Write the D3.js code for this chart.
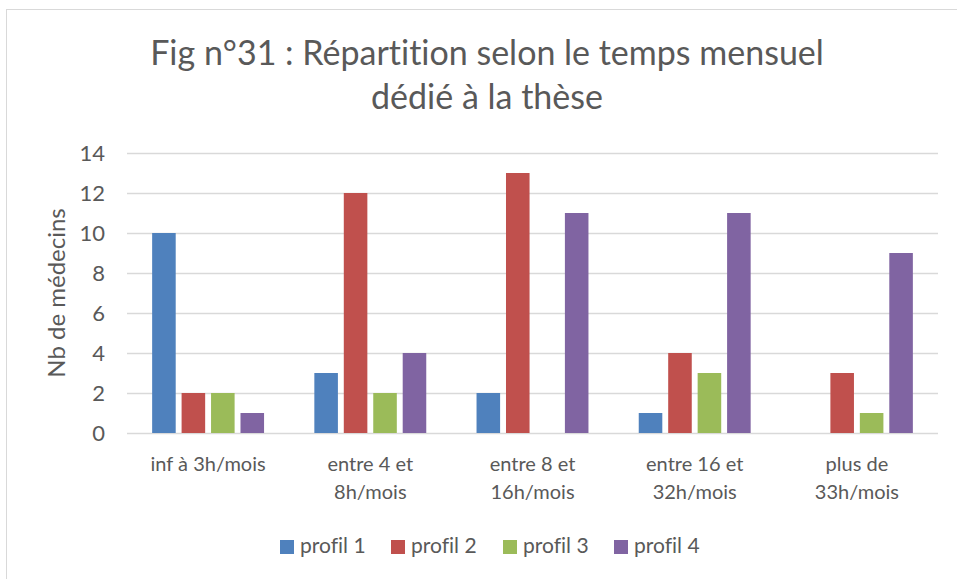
<!DOCTYPE html>
<html>
<head>
<meta charset="utf-8">
<script src="https://cdn.jsdelivr.net/npm/d3@7"></script>
<style>
  body { margin: 0; background: #fff; }
  text { font-family: Lato, "Open Sans", sans-serif; fill: #595959; font-variant-ligatures: none; }
</style>
</head>
<body>
<script>
// data
const categories = [
    ["inf à 3h/mois"],
    ["entre 4 et", "8h/mois"],
    ["entre 8 et", "16h/mois"],
    ["entre 16 et", "32h/mois"],
    ["plus de", "33h/mois"]
]
const seriesNames = ["profil 1", "profil 2", "profil 3", "profil 4"]
const profil1 = [10, 3, 2, 1, 0]
const profil2 = [2, 12, 13, 4, 3]
const profil3 = [2, 2, 0, 3, 1]
const profil4 = [1, 4, 11, 11, 9]
const yTicks = [0, 2, 4, 6, 8, 10, 12, 14]
const colors = ["#4F81BD", "#C0504D", "#9BBB59", "#8064A2"]

const W = 957, H = 579
const plot = { left: 127, right: 938, top: 153, bottom: 433 }

const svg = d3.select("body").append("svg")
    .attr("width", W)
    .attr("height", H)

// chart border
svg.append("rect")
    .attr("x", 6.5).attr("y", 9.5)
    .attr("width", W + 10).attr("height", H + 10)
    .attr("fill", "none")
    .attr("stroke", "#D9D9D9")
    .attr("stroke-width", 1)

//******** TITLE */
const title = svg.append("text")
    .attr("text-anchor", "middle")
    .style("font-size", "34px")
title.append("tspan").attr("x", 487).attr("y", 65).text("Fig n°31 : Répartition selon le temps mensuel")
title.append("tspan").attr("x", 487).attr("y", 109).text("dédié à la thèse")

//******** SCALES */
const y = d3.scaleLinear().domain([0, 14]).range([plot.bottom, plot.top])

const x0 = d3.scaleBand()
    .domain(d3.range(categories.length))
    .range([plot.left, plot.right])
    .paddingInner(0.31)
    .paddingOuter(0.155)

const x1 = d3.scaleBand()
    .domain(d3.range(seriesNames.length))
    .range([0, x0.bandwidth()])
    .paddingInner(0.2)

//******* GRID */
const grid_g = svg.append("g").attr("class", "grid")
grid_g.selectAll("line")
    .data(yTicks)
    .enter().append("line")
    .attr("x1", plot.left).attr("x2", plot.right)
    .attr("y1", d => Math.round(y(d)) + 0.5)
    .attr("y2", d => Math.round(y(d)) + 0.5)
    .attr("stroke", "#D9D9D9")
    .attr("stroke-width", 1.5)

//******** Y AXIS */
const yAxis_g = svg.append("g")
    .attr("transform", "translate(" + (plot.left - 22) + ",0)")
    .call(d3.axisLeft(y).tickValues(yTicks).tickSize(0).tickPadding(0))
yAxis_g.select(".domain").remove()
yAxis_g.selectAll("text")
    .style("font-size", "22px")
    .style("font-family", "Lato, sans-serif")
    .attr("fill", "#595959")
    .attr("dy", "0.35em")

svg.append("text")
    .attr("transform", "translate(65," + ((plot.top + plot.bottom) / 2) + ") rotate(-90)")
    .attr("text-anchor", "middle")
    .style("font-size", "24px")
    .text("Nb de médecins")

//******** BARS */
const allSeries = [profil1, profil2, profil3, profil4]
const bars_g = svg.append("g").attr("class", "bars_g")
allSeries.forEach((vals, si) => {
    bars_g.append("g")
        .attr("fill", colors[si])
        .selectAll("rect")
        .data(vals)
        .enter().append("rect")
        .attr("x", (d, i) => x0(i) + x1(si))
        .attr("width", x1.bandwidth())
        .attr("y", d => y(d))
        .attr("height", d => y(0) - y(d))
})

//******** X LABELS */
const xlab_g = svg.append("g").attr("class", "xlabels")
categories.forEach((lines, i) => {
    const t = xlab_g.append("text")
        .attr("text-anchor", "middle")
        .style("font-size", "20px")
    lines.forEach((l, j) => {
        t.append("tspan")
            .attr("x", x0(i) + x0.bandwidth() / 2)
            .attr("y", 471 + j * 28)
            .text(l)
    })
})

//******** LEGEND */
const legendX = [280, 391, 503, 614]
const legend_g = svg.append("g").attr("class", "legend")
seriesNames.forEach((name, i) => {
    legend_g.append("rect")
        .attr("x", legendX[i]).attr("y", 540)
        .attr("width", 14).attr("height", 14)
        .attr("fill", colors[i])
    legend_g.append("text")
        .attr("x", legendX[i] + 20).attr("y", 553)
        .style("font-size", "21px")
        .text(name)
})
</script>
</body>
</html>
